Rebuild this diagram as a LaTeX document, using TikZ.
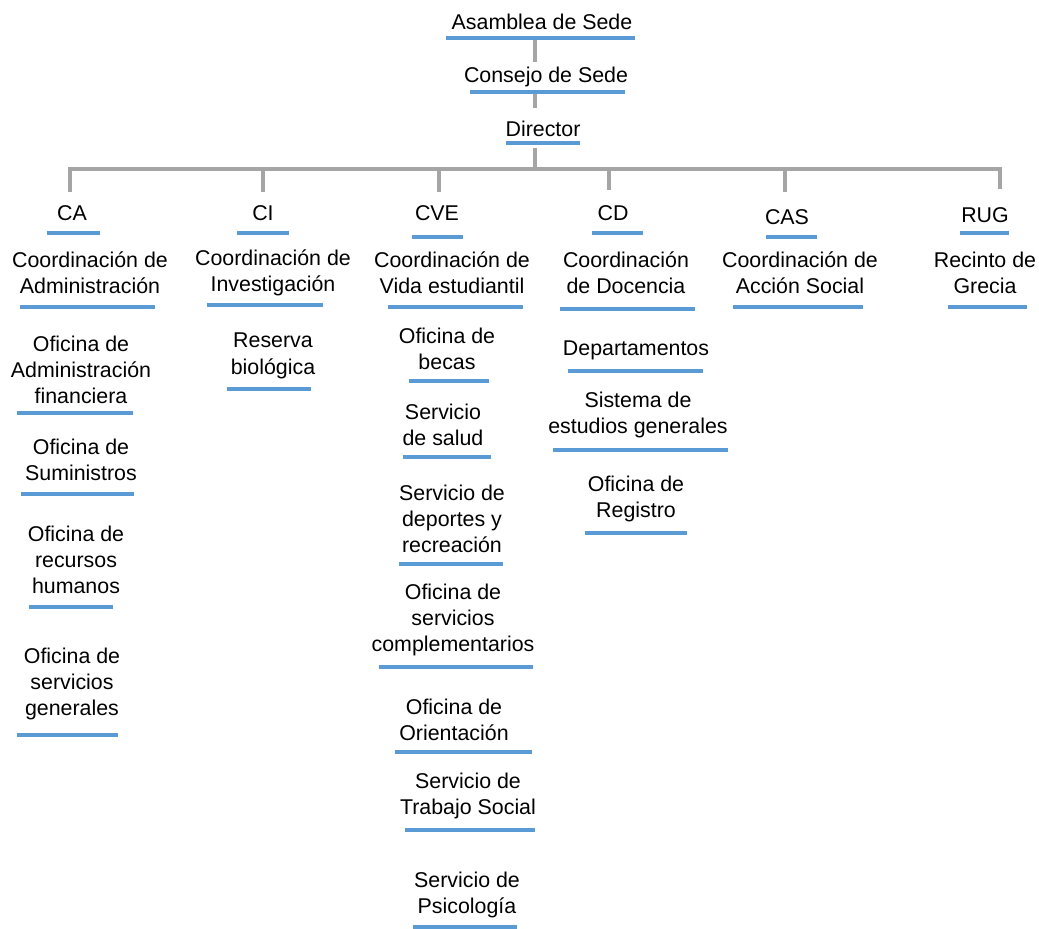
\documentclass[tikz,border=0pt]{standalone}
\usepackage{fontspec}
\setmainfont{Liberation Sans}
\usepackage{xcolor}
\definecolor{ulblue}{HTML}{5B9BD5}
\definecolor{conngray}{HTML}{A5A5A5}

\begin{document}
\begin{tikzpicture}[x=0.025cm, y=-0.025cm,
        lbl/.style={align=center, inner sep=0pt, text=black,
                    font=\fontsize{15.2}{18.7}\selectfont},
        uline/.style={draw=ulblue, line width=2.6pt},
        conn/.style={draw=conngray, line width=2.5pt}]
        \useasboundingbox (0,0) rectangle (1039,928);

        % top of the chart
        \node[lbl] (asamblea) at (542, 22) {Asamblea de Sede};
        \node[lbl] (consejo)  at (546, 77) {Consejo de Sede};
        \node[lbl] (director) at (543,129) {Director};

        \draw[uline] (446, 38) -- (635, 38); % Asamblea
        \draw[uline] (470, 92) -- (625, 92); % Consejo
        \draw[uline] (506,143) -- (580,143); % Director

        % spine and bus
        \coordinate (bus) at (535,169);
        \coordinate (dCA)  at (  70,192);
        \coordinate (dCI)  at ( 263,192);
        \coordinate (dCVE) at ( 439,192);
        \coordinate (dCD)  at ( 609,190);
        \coordinate (dCAS) at ( 785,192);
        \coordinate (dRUG) at (1000,189);

        \draw[conn, shorten <=7.3pt, shorten >=3.5pt] (asamblea.south -| bus) -- (consejo.north -| bus);
        \draw[conn, shorten <=5pt,   shorten >=9.2pt] (consejo.south -| bus)  -- (director.north -| bus);
        \draw[conn, shorten <=8pt] (director.south -| bus) -- (bus);
        \draw[conn] (dCA) |- (dRUG |- bus) -- (dRUG);
        \foreach \d in {dCI,dCVE,dCD,dCAS}
            \draw[conn] (bus -| \d) -- (\d);

        % abbreviations
        \node[lbl] (ca)  at ( 72,213) {CA};
        \node[lbl] (ci)  at (263,213) {CI};
        \node[lbl] (cve) at (437,213) {CVE};
        \node[lbl] (cd)  at (613,213) {CD};
        \node[lbl] (cas) at (787,217) {CAS};
        \node[lbl] (rug) at (985,215) {RUG};

        \draw[uline] ( 47,233) -- ( 100,233); % CA
        \draw[uline] (237,233) -- ( 289,233); % CI
        \draw[uline] (412,237) -- ( 463,237); % CVE
        \draw[uline] (592,233) -- ( 643,233); % CD
        \draw[uline] (766,237) -- ( 817,237); % CAS
        \draw[uline] (960,233) -- (1009,233); % RUG

        % coordinations
        \node[lbl] (coordA) at ( 90,273) {Coordinación de\\Administración};
        \node[lbl] (coordI) at (273,273) {Coordinación de\\Investigación};
        \node[lbl] (coordV) at (452,273) {Coordinación de\\Vida estudiantil};
        \node[lbl] (coordD) at (626,273) {Coordinación\\de Docencia};
        \node[lbl] (coordS) at (800,273) {Coordinación de\\Acción Social};
        \node[lbl] (coordG) at (985,273) {Recinto de\\Grecia};

        \draw[uline] ( 20,307) -- ( 155,307);
        \draw[uline] (207,305) -- ( 323,305);
        \draw[uline] (388,307) -- ( 523,307);
        \draw[uline] (560,309) -- ( 695,309);
        \draw[uline] (733,307) -- ( 863,307);
        \draw[uline] (948,307) -- (1027,307);

        % CA column
        \node[lbl] (finan) at (81,370) {Oficina de\\Administración\\financiera};
        \node[lbl] (sumin) at (81,460) {Oficina de\\Suministros};
        \node[lbl] (rrhh)  at (76,560) {Oficina de\\recursos\\humanos};
        \node[lbl] (sgen)  at (72,684) {Oficina de\\servicios\\generales};

        \draw[uline] (17,413) -- (133,413);
        \draw[uline] (21,494) -- (134,494);
        \draw[uline] (29,607) -- (113,607);
        \draw[uline] (17,735) -- (118,735);

        % CI column
        \node[lbl] (reserva) at (273,356) {Reserva\\biológica};
        \draw[uline] (227,389) -- (311,389);

        % CVE column
        \node[lbl] (becas)    at (447,349) {Oficina de\\becas};
        \node[lbl] (salud)    at (443,425) {Servicio\\de salud};
        \node[lbl] (deportes) at (452,519) {Servicio de\\deportes y\\recreación};
        \node[lbl] (complem)  at (453,620) {Oficina de\\servicios\\complementarios};
        \node[lbl] (orient)   at (454,720) {Oficina de\\Orientación};
        \node[lbl] (trabajo)  at (468,796) {Servicio de\\Trabajo Social};
        \node[lbl] (psico)    at (467,895) {Servicio de\\Psicología};

        \draw[uline] (409,381) -- (489,381);
        \draw[uline] (403,457) -- (491,457);
        \draw[uline] (399,564) -- (503,564);
        \draw[uline] (379,667) -- (533,667);
        \draw[uline] (395,752) -- (532,752);
        \draw[uline] (405,830) -- (535,830);
        \draw[uline] (413,927) -- (517,927);

        % CD column
        \node[lbl] (deptos)   at (636,350) {Departamentos};
        \node[lbl] (sisgen)   at (638,415) {Sistema de\\estudios generales};
        \node[lbl] (registro) at (636,499) {Oficina de\\Registro};

        \draw[uline] (568,371) -- (703,371);
        \draw[uline] (553,450) -- (728,450);
        \draw[uline] (585,533) -- (687,533);
    \end{tikzpicture}
\end{document}
